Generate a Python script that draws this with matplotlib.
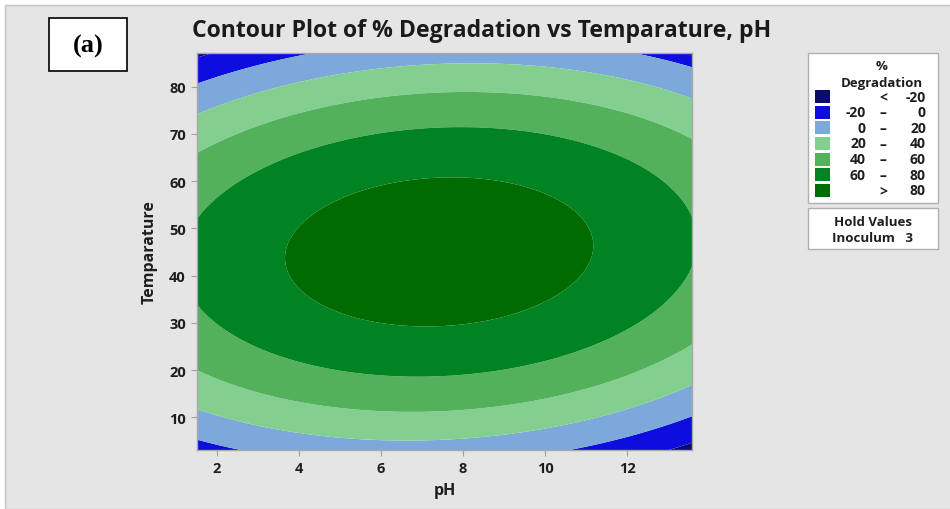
import numpy as np
import matplotlib
matplotlib.use("Agg")
import matplotlib.pyplot as plt
from matplotlib.patches import Rectangle

# Fitted quadratic response surface, inoculum held at 3
ph_limits = [1.52, 13.58]
temp_limits = [3.07, 87.1]
optimum = [7.42, 45.0]          # pH, temperature at the stationary point
peak_degradation = 91.1
coef_ph2 = 0.7925
coef_temp2 = 0.0449
coef_ph_temp = 0.0314

levels = [-1000, -20, 0, 20, 40, 60, 80, 1000]
level_colors = ["#0b0b6e", "#0d0de0", "#7ca8da", "#82cf8f",
                "#53b15c", "#008322", "#006b00"]
legend_lo = ["", "-20", "0", "20", "40", "60", ""]
legend_mid = ["<", "\u2013", "\u2013", "\u2013", "\u2013", "\u2013", ">"]
legend_hi = ["-20", "0", "20", "40", "60", "80", "80"]

ph_ticks = [2, 4, 6, 8, 10, 12]
temp_ticks = [10, 20, 30, 40, 50, 60, 70, 80]

ph = np.linspace(ph_limits[0], ph_limits[1], 400)
temp = np.linspace(temp_limits[0], temp_limits[1], 400)
P, T = np.meshgrid(ph, temp)
dp = P - optimum[0]
dt = T - optimum[1]
Z = peak_degradation - coef_ph2 * dp**2 - coef_temp2 * dt**2 + coef_ph_temp * dp * dt

plt.rcParams["font.family"] = ["Open Sans", "DejaVu Sans"]
ink = "#1e1e1e"

W, H = 950, 510
fig = plt.figure(figsize=(9.5, 5.1), dpi=100)
fig.patch.set_facecolor("white")

# grey panel behind everything
fig.patches.append(Rectangle((5 / W, 0), 1, 1 - 6 / H, transform=fig.transFigure,
                             facecolor="#e5e5e5", edgecolor="#c4c4c4", lw=1, zorder=-5))

ax = fig.add_axes([197 / W, 1 - 451 / H, (692 - 197) / W, (451 - 54) / H])
ax.set_zorder(5)
ax.contourf(P, T, Z, levels=levels, colors=level_colors, antialiased=True)
ax.set_xlim(ph_limits)
ax.set_ylim(temp_limits)
ax.set_xticks(ph_ticks)
ax.set_yticks(temp_ticks)
for s in ax.spines.values():
    s.set_color("#a8a8a8")
    s.set_linewidth(1)
ax.tick_params(direction="out", length=4, color="#a0a0a0", labelsize=10.5,
               labelcolor=ink, pad=4)
for lab in ax.get_xticklabels() + ax.get_yticklabels():
    lab.set_fontweight("bold")
ax.set_xlabel("pH", fontsize=11.5, fontweight="bold", color=ink, labelpad=5)
ax.set_ylabel("Temparature", fontsize=11.5, fontweight="bold", color=ink, labelpad=8)

fig.text(482 / W, 1 - 31 / H, "Contour Plot of % Degradation vs Temparature, pH",
         ha="center", va="center", fontsize=16.6, fontweight="bold", color="#1a1a1a")

# panel tag
fig.patches.append(Rectangle((49 / W, 1 - 72 / H), 78 / W, 53 / H, transform=fig.transFigure,
                             facecolor="white", edgecolor="black", lw=1.2, zorder=2))
fig.text(88 / W, 1 - 46 / H, "(a)", ha="center", va="center", fontsize=19,
         fontweight="bold", family="Liberation Serif", zorder=3)

# legend box
fig.patches.append(Rectangle((808 / W, 1 - 204 / H), 130 / W, 150 / H, transform=fig.transFigure,
                             facecolor="white", edgecolor="#b0b0b0", lw=1, zorder=2))
fig.text(882 / W, 1 - 66 / H, "%", ha="center", va="center", fontsize=9.5,
         fontweight="bold", color=ink)
fig.text(882 / W, 1 - 83 / H, "Degradation", ha="center", va="center", fontsize=9.5,
         fontweight="bold", color=ink)
for i, col in enumerate(level_colors):
    yc = 97.7 + i * 15.6
    fig.patches.append(Rectangle((815 / W, 1 - (yc + 6.5) / H), 15 / W, 13 / H,
                                 transform=fig.transFigure, facecolor=col,
                                 edgecolor="none", zorder=3))
    fig.text(866 / W, 1 - yc / H, legend_lo[i], ha="right", va="center", fontsize=10,
             fontweight="bold", color=ink)
    fig.text(883 / W, 1 - yc / H, legend_mid[i], ha="center", va="center", fontsize=10,
             fontweight="bold", color=ink)
    fig.text(926 / W, 1 - yc / H, legend_hi[i], ha="right", va="center", fontsize=10,
             fontweight="bold", color=ink)

# hold values box
fig.patches.append(Rectangle((808 / W, 1 - 250 / H), 130 / W, 41 / H, transform=fig.transFigure,
                             facecolor="white", edgecolor="#b0b0b0", lw=1, zorder=2))
fig.text(873 / W, 1 - 223 / H, "Hold Values", ha="center", va="center", fontsize=9.5,
         fontweight="bold", color=ink)
fig.text(873 / W, 1 - 239 / H, "Inoculum   3", ha="center", va="center", fontsize=9.5,
         fontweight="bold", color=ink)

fig.savefig("out.png", dpi=100)
